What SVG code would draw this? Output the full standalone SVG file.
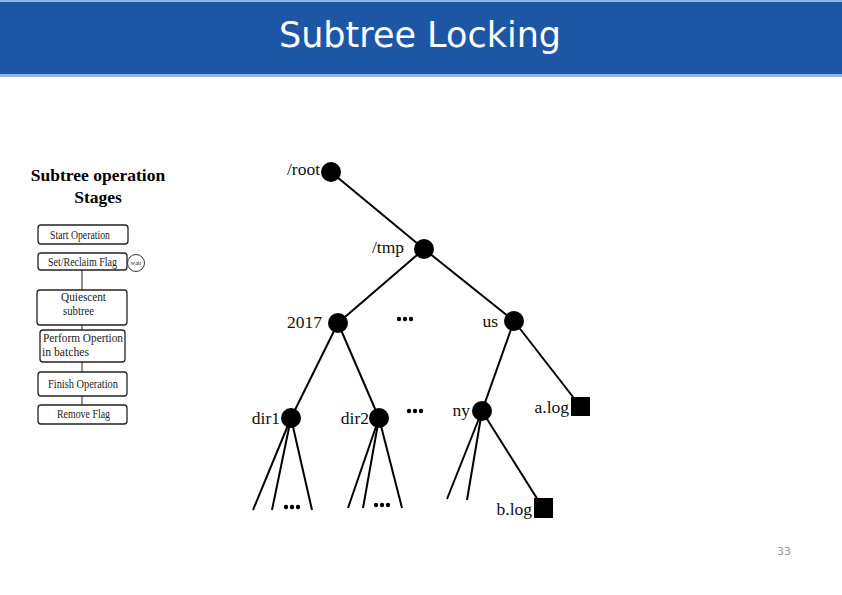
<svg xmlns="http://www.w3.org/2000/svg" width="842" height="595" viewBox="0 0 842 595">
<style>
.lbl{font-family:"Liberation Serif","Times New Roman",serif;font-size:17.5px;fill:#111}
.fc{font-family:"Liberation Serif","Times New Roman",serif;font-size:11.5px;fill:#222}
.box{fill:#fff;stroke:#222;stroke-width:1.3}
.edge{stroke:#000;stroke-width:2;fill:none}
.fl{stroke:#444;stroke-width:1.2}
.dot{fill:#000}
</style>
<rect x="0" y="0" width="842" height="595" fill="#fff"/>
<g id="header">
<rect x="0" y="0" width="842" height="77" fill="#8fb4e8"/>
<rect x="0" y="2" width="842" height="72" fill="#1e56a6"/>
<text x="420" y="47" text-anchor="middle" font-family="DejaVu Sans, Verdana, sans-serif" font-size="35" fill="#fff">Subtree Locking</text>
</g>
<g id="caption">
<text x="98" y="181" text-anchor="middle" font-family="Liberation Serif, serif" font-weight="bold" font-size="17.5" fill="#000">Subtree operation</text>
<text x="98" y="203" text-anchor="middle" font-family="Liberation Serif, serif" font-weight="bold" font-size="17.5" fill="#000">Stages</text>
</g>
<g id="flow-connectors">
<line class="fl" x1="82" y1="270" x2="82" y2="290"/>
<line class="fl" x1="82" y1="325" x2="82" y2="330" stroke-width="0.6"/>
<line class="fl" x1="82" y1="362" x2="82" y2="372" stroke-width="0.6"/>
<line class="fl" x1="82" y1="396" x2="82" y2="405"/>
</g>
<g id="stage-start">
<rect class="box" x="38" y="225" width="90" height="19" rx="3"/>
<text class="fc" x="50" y="239" textLength="60" lengthAdjust="spacingAndGlyphs">Start Operation</text>
</g>
<g id="stage-flag">
<rect class="box" x="38" y="253" width="89" height="17" rx="3"/>
<text class="fc" x="48" y="266" textLength="69" lengthAdjust="spacingAndGlyphs">Set/Reclaim Flag</text>
</g>
<g id="wait">
<circle cx="136" cy="263" r="8.5" fill="#fff" stroke="#333" stroke-width="1"/>
<text x="136" y="265" text-anchor="middle" font-family="Liberation Serif, serif" font-size="6" fill="#222">wait</text>
</g>
<g id="stage-quiesce">
<rect class="box" x="37" y="290" width="90" height="35" rx="3"/>
<text class="fc" x="61" y="301" textLength="45" lengthAdjust="spacingAndGlyphs">Quiescent</text>
<text class="fc" x="63" y="315" textLength="31" lengthAdjust="spacingAndGlyphs">subtree</text>
</g>
<g id="stage-perform">
<rect class="box" x="40" y="330" width="85" height="32" rx="3"/>
<text class="fc" x="43" y="342" textLength="80" lengthAdjust="spacingAndGlyphs">Perform Opertion</text>
<text class="fc" x="42" y="356" textLength="47" lengthAdjust="spacingAndGlyphs">in batches</text>
</g>
<g id="stage-finish">
<rect class="box" x="38" y="372" width="89" height="24" rx="3"/>
<text class="fc" x="48" y="388" textLength="70" lengthAdjust="spacingAndGlyphs">Finish Operation</text>
</g>
<g id="stage-remove">
<rect class="box" x="38" y="405" width="89" height="19" rx="3"/>
<text class="fc" x="57" y="418" textLength="53" lengthAdjust="spacingAndGlyphs">Remove Flag</text>
</g>
<g id="connectors">
<line class="edge" x1="331" y1="172" x2="424" y2="249"/>
<line class="edge" x1="424" y1="249" x2="338" y2="323"/>
<line class="edge" x1="424" y1="249" x2="514" y2="321"/>
<line class="edge" x1="338" y1="323" x2="291" y2="418"/>
<line class="edge" x1="338" y1="323" x2="379" y2="418"/>
<line class="edge" x1="514" y1="321" x2="482" y2="411"/>
<line class="edge" x1="514" y1="321" x2="580" y2="406"/>
<line class="edge" x1="482" y1="411" x2="543" y2="508"/>
<line class="edge" x1="291" y1="418" x2="253" y2="510"/>
<line class="edge" x1="291" y1="418" x2="272" y2="510"/>
<line class="edge" x1="291" y1="418" x2="312" y2="510"/>
<line class="edge" x1="379" y1="418" x2="348" y2="508"/>
<line class="edge" x1="379" y1="418" x2="363" y2="508"/>
<line class="edge" x1="379" y1="418" x2="402" y2="508"/>
<line class="edge" x1="482" y1="411" x2="447" y2="499"/>
<line class="edge" x1="482" y1="411" x2="467" y2="500"/>
</g>
<g id="node-root">
<circle class="dot" cx="331" cy="172" r="10"/>
<text class="lbl" x="320" y="175" text-anchor="end">/root</text>
</g>
<g id="node-tmp">
<circle class="dot" cx="424" cy="249" r="10"/>
<text class="lbl" x="404" y="253" text-anchor="end">/tmp</text>
</g>
<g id="node-2017">
<circle class="dot" cx="338" cy="323" r="10"/>
<text class="lbl" x="322" y="328" text-anchor="end">2017</text>
</g>
<g id="node-us">
<circle class="dot" cx="514" cy="321" r="10"/>
<text class="lbl" x="498" y="327" text-anchor="end">us</text>
</g>
<g id="dots-tmp">
<circle class="dot" cx="399" cy="319" r="2.2"/><circle class="dot" cx="405" cy="319" r="2.2"/><circle class="dot" cx="411" cy="319" r="2.2"/>
</g>
<g id="node-dir1">
<circle class="dot" cx="291" cy="418" r="10"/>
<text class="lbl" x="280" y="424" text-anchor="end">dir1</text>
</g>
<g id="node-dir2">
<circle class="dot" cx="379" cy="418" r="10"/>
<text class="lbl" x="369" y="424" text-anchor="end">dir2</text>
</g>
<g id="dots-2017">
<circle class="dot" cx="409" cy="411" r="2.2"/><circle class="dot" cx="415" cy="411" r="2.2"/><circle class="dot" cx="421" cy="411" r="2.2"/>
</g>
<g id="node-ny">
<circle class="dot" cx="482" cy="411" r="10"/>
<text class="lbl" x="470" y="416" text-anchor="end">ny</text>
</g>
<g id="node-alog">
<rect class="dot" x="571" y="397" width="19" height="19"/>
<text class="lbl" x="569" y="413" text-anchor="end">a.log</text>
</g>
<g id="node-blog">
<rect class="dot" x="534" y="498" width="19" height="20"/>
<text class="lbl" x="532" y="515" text-anchor="end">b.log</text>
</g>
<g id="dots-dir1">
<circle class="dot" cx="286" cy="507" r="2.2"/><circle class="dot" cx="292" cy="507" r="2.2"/><circle class="dot" cx="298" cy="507" r="2.2"/>
</g>
<g id="dots-dir2">
<circle class="dot" cx="376" cy="505" r="2.2"/><circle class="dot" cx="382" cy="505" r="2.2"/><circle class="dot" cx="388" cy="505" r="2.2"/>
</g>
<text x="784" y="555" text-anchor="middle" font-family="DejaVu Sans, sans-serif" font-size="11" fill="#999">33</text>
</svg>
